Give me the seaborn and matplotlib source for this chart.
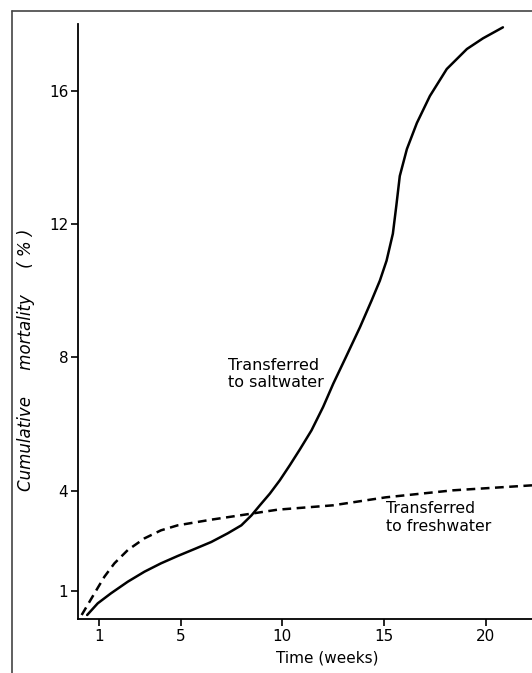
import matplotlib
matplotlib.use("Agg")
import matplotlib.pyplot as plt
from matplotlib.lines import Line2D
import seaborn as sns
import pandas as pd

# Data
salt_weeks = [0.40, 0.92, 1.57, 2.40, 3.22, 4.03, 4.85, 5.68, 6.50, 7.31, 7.98, 8.48,
              8.89, 9.38, 9.87, 10.36, 10.86, 11.43, 12.00, 12.50, 13.10, 13.81, 14.38,
              14.79, 15.12, 15.43, 15.60, 15.77, 16.12, 16.61, 17.25, 18.08, 19.07,
              19.86, 20.84]
salt_mort = [0.27, 0.62, 0.92, 1.27, 1.57, 1.82, 2.04, 2.25, 2.46, 2.72, 2.96, 3.26,
             3.56, 3.91, 4.31, 4.76, 5.24, 5.81, 6.51, 7.21, 7.98, 8.90, 9.70,
             10.30, 10.90, 11.71, 12.55, 13.44, 14.25, 15.03, 15.84, 16.65, 17.25,
             17.57, 17.90]
fresh_weeks = [0.13, 0.76, 1.25, 1.74, 2.40, 3.22, 4.03, 4.85, 6.50, 8.14, 9.77,
               12.48, 15.08, 18.38, 22.27]
fresh_mort = [0.27, 0.92, 1.42, 1.82, 2.22, 2.57, 2.81, 2.96, 3.13, 3.28, 3.43,
              3.56, 3.80, 4.01, 4.16]

x_ticks = [1, 5, 10, 15, 20]
x_tick_labels = ["1", "5", "10", "15", "20"]
y_ticks = [1, 4, 8, 12, 16]
y_tick_labels = ["1", "4", "8", "12", "16"]

salt_df = pd.DataFrame({"week": salt_weeks, "mort": salt_mort})
fresh_df = pd.DataFrame({"week": fresh_weeks, "mort": fresh_mort})

sns.set_style("ticks")
plt.rcParams["font.family"] = ["DejaVu Sans"]
plt.rcParams["text.color"] = "black"
plt.rcParams["axes.labelcolor"] = "black"

W, H = 532, 673
fig = plt.figure(figsize=(W / 100, H / 100), dpi=100)
ax = fig.add_axes([78 / W, (H - 619) / H, (W - 78) / W, (619 - 24) / H])

sns.lineplot(data=salt_df, x="week", y="mort", ax=ax, color="black", lw=1.8,
             sort=False, estimator=None)
sns.lineplot(data=fresh_df, x="week", y="mort", ax=ax, color="black", lw=1.8,
             sort=False, estimator=None, linestyle=(0, (3.5, 2.2)))

ax.set_xlim(-0.05, 22.27)
ax.set_ylim(0.15, 18.0)
ax.set_xticks(x_ticks)
ax.set_xticklabels(x_tick_labels, fontsize=11)
ax.set_yticks(y_ticks)
ax.set_yticklabels(y_tick_labels, fontsize=11)
ax.tick_params(axis="both", direction="out", length=5, width=1.2, colors="black",
               labelcolor="black", pad=2)
for s in ["top", "right"]:
    ax.spines[s].set_visible(False)
for s in ["left", "bottom"]:
    ax.spines[s].set_linewidth(1.3)
    ax.spines[s].set_color("black")

ax.set_xlabel("Time (weeks)", fontsize=11)
ax.xaxis.set_label_coords((327 - 78) / (W - 78), -0.053)
ax.set_ylabel("Cumulative     mortality     ( % )", fontsize=12, style="italic")
ax.yaxis.set_label_coords((35 - 78) / (W - 78), (619 - 360) / (619 - 24))

ax.text(7.3, 7.5, "Transferred\nto saltwater", fontsize=11.5, ha="left", va="center",
        linespacing=1.2)
ax.text(15.1, 3.2, "Transferred\nto freshwater", fontsize=11.3, ha="left", va="center",
        linespacing=1.25)

# scanned page border
fig.add_artist(Line2D([12 / W, 1.0], [1 - 11 / H, 1 - 11 / H], transform=fig.transFigure,
                      color="#444444", lw=1.2))
fig.add_artist(Line2D([12 / W, 12 / W], [0, 1 - 11 / H], transform=fig.transFigure,
                      color="#444444", lw=1.2))

fig.savefig("out.png", dpi=100)
